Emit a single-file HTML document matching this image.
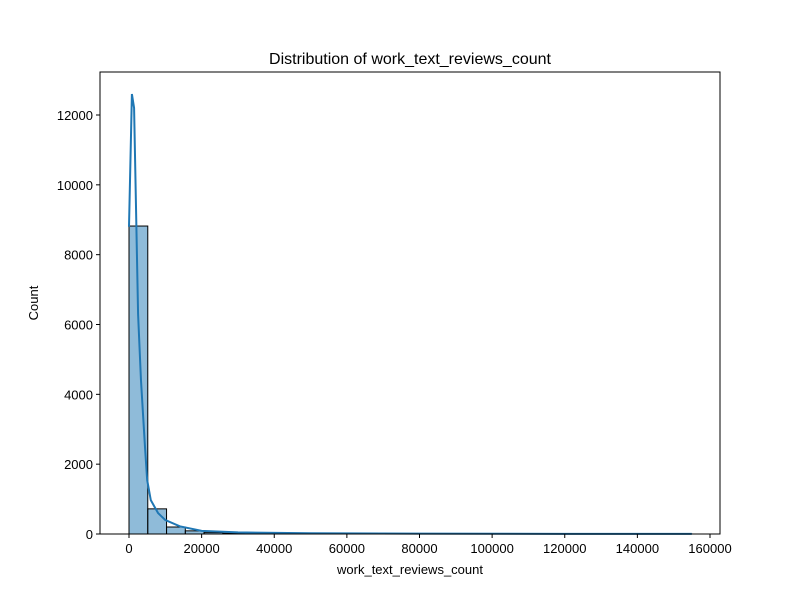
<!DOCTYPE html>
<html><head><meta charset="utf-8"><style>
body{margin:0;background:#fff;font-family:"Liberation Sans","DejaVu Sans",sans-serif}
svg text{font-family:"Liberation Sans","DejaVu Sans",sans-serif;fill:#000}
</style></head><body>
<svg id="chart" width="800" height="600">
<text x="410" y="64" font-size="16" text-anchor="middle">Distribution of work_text_reviews_count</text>
<g id="plot"></g>
<text x="410" y="574" font-size="13" text-anchor="middle">work_text_reviews_count</text>
<text x="38" y="303" font-size="13" text-anchor="middle" transform="rotate(-90 38 303)">Count</text>
</svg>
<script>
const binStart = 0;
const binWidth = 5170;
const counts = [8820, 720, 200, 90, 40, 25, 15, 12, 10, 8, 6, 5, 4, 3, 3, 2, 2, 2, 1, 1, 1, 1, 1, 1, 1, 1, 1, 1, 1, 1];
const kdeX = [0, 800, 1400, 2500, 3300, 4400, 5000, 6000, 8000, 10000, 14000, 20000, 30000, 50000, 80000, 120000, 155000];
const kdeY = [8800, 12600, 12200, 6300, 4400, 2500, 1550, 970, 600, 400, 220, 90, 45, 20, 10, 5, 3];
const xTicks = [0, 20000, 40000, 60000, 80000, 100000, 120000, 140000, 160000];
const yTicks = [0, 2000, 4000, 6000, 8000, 10000, 12000];

const L=100,R=720,T=72,B=534;
const sx=v=>129+v*(581/160000);
const sy=v=>B-v*(419/12000);
const ns="http://www.w3.org/2000/svg";
const g=document.getElementById('plot');
function mk(t,a){const e=document.createElementNS(ns,t);for(const k in a)e.setAttribute(k,a[k]);g.appendChild(e);return e;}
counts.forEach((c,i)=>{
  const x0=sx(binStart+i*binWidth),x1=sx(binStart+(i+1)*binWidth);
  const r=mk('rect',{x:x0,y:sy(c),width:x1-x0,height:B-sy(c),fill:'rgba(31,119,180,0.5)',stroke:'#000','stroke-width':1});
  
  
});
const p=mk('path',{d:kdeX.map((x,i)=>(i?'L':'M')+sx(x)+','+sy(kdeY[i])).join(' '),fill:'none',stroke:'#1f77b4','stroke-width':2});


const fr=mk('rect',{x:L,y:T,width:R-L,height:B-T,fill:'none',stroke:'#000','stroke-width':1});


xTicks.forEach(v=>{
  mk('line',{x1:sx(v),x2:sx(v),y1:B,y2:B+4,stroke:'#000'});
  const t=mk('text',{x:sx(v),y:B+19,'font-size':13,'text-anchor':'middle'});t.textContent=v;
  
  
});
yTicks.forEach(v=>{
  mk('line',{x1:L-4,x2:L,y1:sy(v),y2:sy(v),stroke:'#000'});
  const t=mk('text',{x:L-7,y:sy(v)+5,'font-size':13,'text-anchor':'end'});t.textContent=v;
  
  
});
</script>
</body></html>
